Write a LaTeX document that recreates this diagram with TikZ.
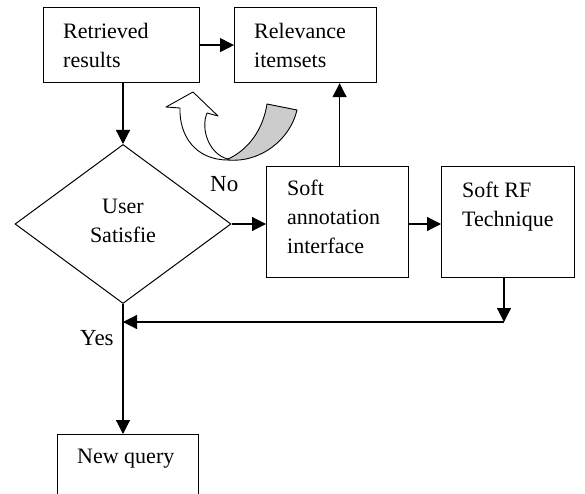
\documentclass[tikz,border=0pt]{standalone}
\usepackage{fontspec}
\setmainfont{Liberation Serif}
\usetikzlibrary{shapes.geometric,arrows.meta}
\begin{document}
\begin{tikzpicture}[x=1pt,y=-1pt,
  box/.style={draw,line width=1.2pt,rectangle,inner sep=0pt,anchor=north west},
  txt/.style={inner sep=0pt,anchor=north west,align=left,font=\fontsize{22}{29}\selectfont},
  lbl/.style={inner sep=0pt,anchor=base west,font=\fontsize{23}{29}\selectfont},
  conn/.style={line width=1.2pt,-{Triangle[length=14pt,width=14pt]}},
  ribbon/.style={draw,line width=0.9pt,line join=round}]
\useasboundingbox (0,0) rectangle (585,494);
\clip (0,0) rectangle (585,494);
\fill[white] (0,0) rectangle (585,494);

% boxes
\node[box,minimum width=156pt,minimum height=75pt] (rr) at (43,7) {};
\node[box,minimum width=142pt,minimum height=75pt] (rel) at (234,7) {};
\node[box,minimum width=142pt,minimum height=111pt] (sa) at (266,166) {};
\node[box,minimum width=133pt,minimum height=111pt] (rf) at (441,166) {};
\node[box,minimum width=141pt,minimum height=80pt] (nq) at (57,434) {};
\node[draw,diamond,line width=1pt,inner sep=0pt,minimum width=216pt,minimum height=159pt] (ud) at (123,224) {};

% texts
\node[txt] (rrt) at (63,22) {\rule{0pt}{16pt}Retrieved\\results};
\node[txt] (relt) at (254,22) {\rule{0pt}{16pt}Relevance\\itemsets};
\node[txt] (sat) at (287,179) {\rule{0pt}{16pt}Soft\\annotation\\interface};
\node[txt] (rft) at (462,181) {\rule{0pt}{16pt}Soft RF\\Technique};
\node[txt] (nqt) at (77,447) {\rule{0pt}{16pt}New query};
\node[txt,anchor=north,align=center] (udt) at (123,197) {\rule{0pt}{16pt}User\\Satisfie};
\node[lbl] (no) at (210,192) {No};
\node[lbl] (yes) at (80,345) {Yes};

% connectors
\draw[conn] (ud.north |- rr.south) -- (ud.north);
\draw[conn] (rr.east) -- (rel.west);
\draw[conn] (ud.east) -- (sa.west |- ud.east);
\draw[conn] (sa.east |- ud.east) -- (rf.west |- ud.east);
\draw[conn] ([xshift=2pt]sa.north) -- ([xshift=2pt]sa.north |- rel.south);
\coordinate (c1) at (504,322);
\coordinate (c2) at (123,322);
\draw[conn] (rf.south -| c1) -- (c1);
\draw[conn] (c1) -- (c2);
\draw[conn] (ud.south) -- (ud.south |- nq.north);

% curved 3D arrow
\path[ribbon,fill=gray!40] (228,159) .. controls (248,150) and (263,130) .. (267,104)
  -- (297,110) .. controls (290,140) and (260,163) .. (228,160) -- cycle;
\path[ribbon,fill=white] (228,159) .. controls (210,155) and (200,130) .. (207,113)
  -- (218,116) -- (193,92) -- (166,107) -- (180,108)
  .. controls (179,135) and (195,160) .. (228,160) -- cycle;
\end{tikzpicture}
\end{document}
